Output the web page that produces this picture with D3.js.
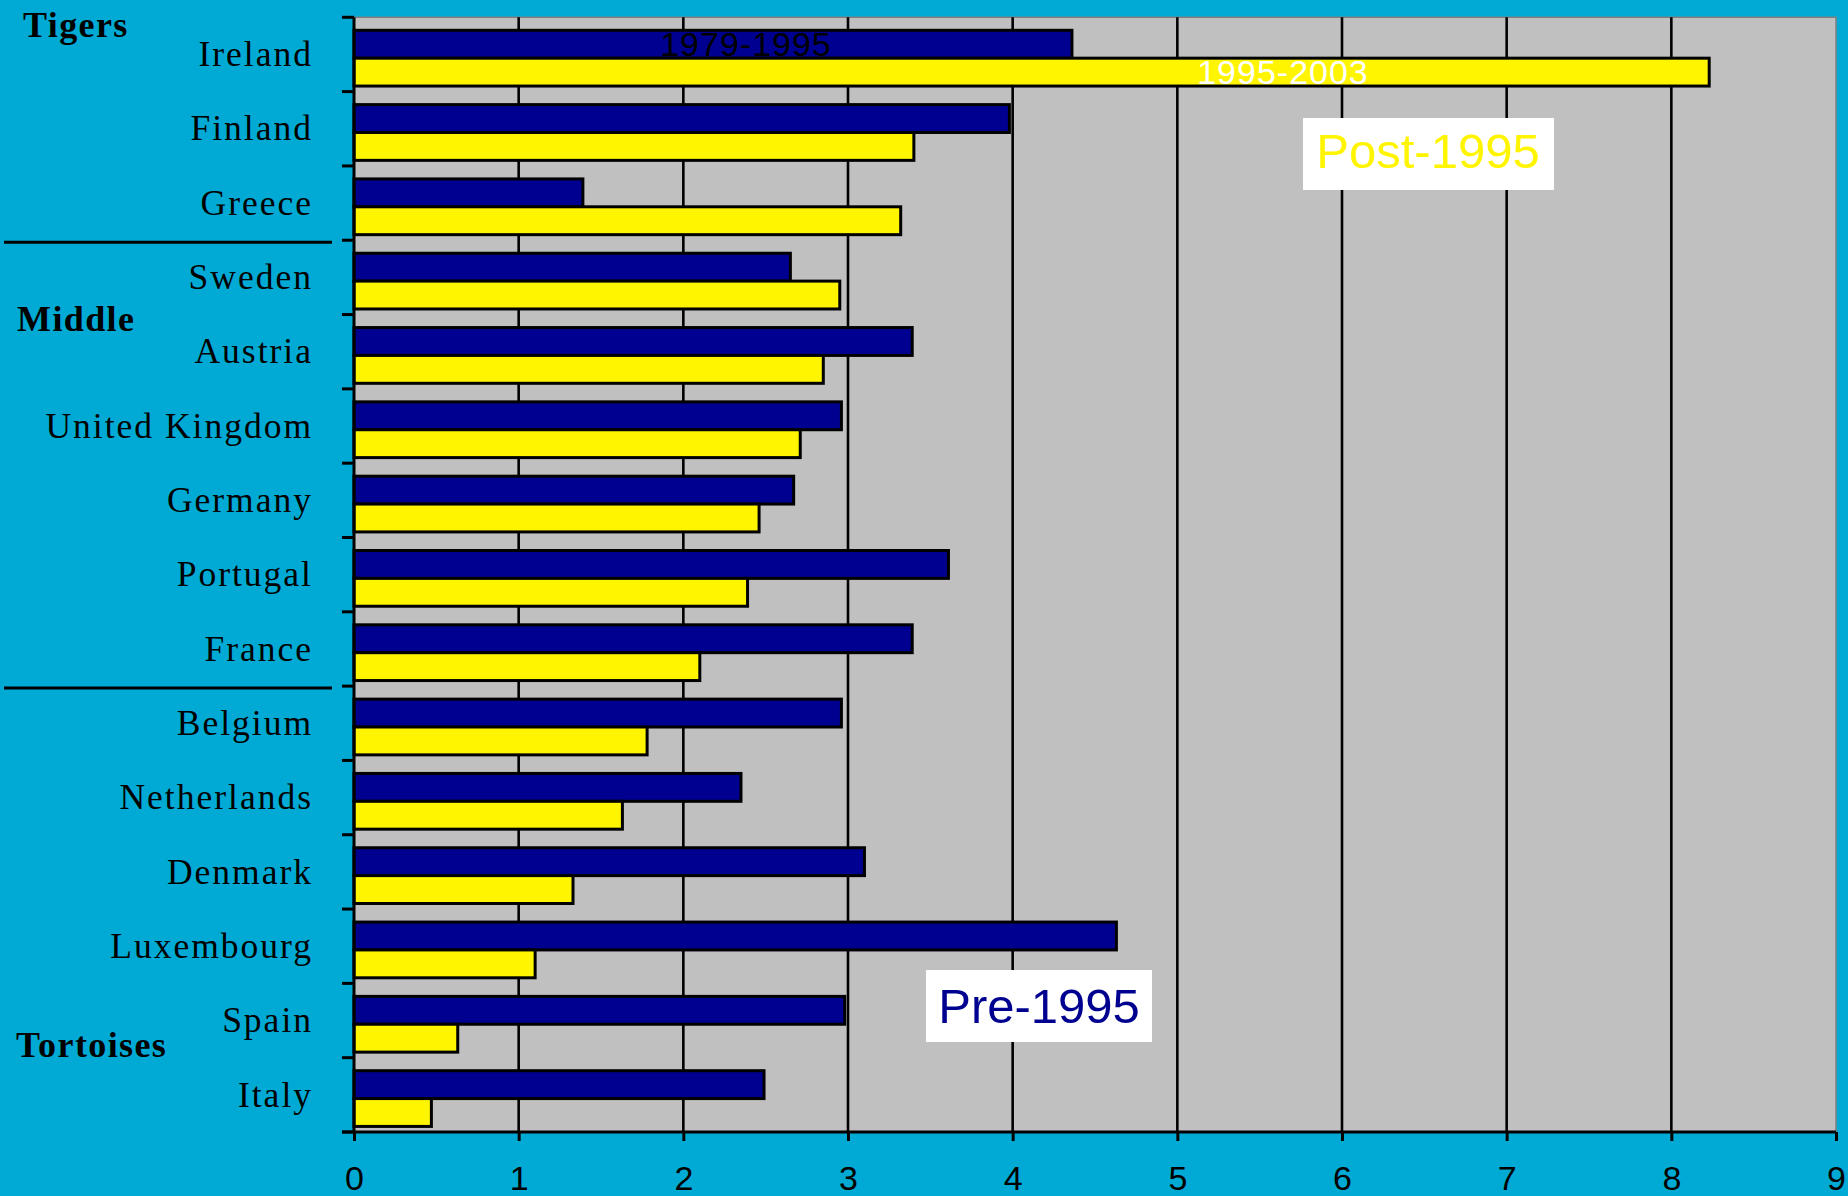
<!DOCTYPE html>
<html><head><meta charset="utf-8">
<script src="https://cdn.jsdelivr.net/npm/d3@7"></script>
<style>
html,body{margin:0;padding:0;background:#00AAD4;}
svg{display:block;}
</style></head>
<body>
<script>
const countries = ["Ireland","Finland","Greece","Sweden","Austria","United Kingdom","Germany","Portugal","France","Belgium","Netherlands","Denmark","Luxembourg","Spain","Italy"];
const pre1995  = [4.36,3.98,1.39,2.65,3.39,2.96,2.67,3.61,3.39,2.96,2.35,3.10,4.63,2.98,2.49];
const post1995 = [8.23,3.40,3.32,2.95,2.85,2.71,2.46,2.39,2.10,1.78,1.63,1.33,1.10,0.63,0.47];
const xTicks = [0,1,2,3,4,5,6,7,8,9];
const groups = ["Tigers","Middle","Tortoises"];
const separatorsAfter = ["Greece","France"];
const seriesNames = ["1979-1995","1995-2003"];
const boxLabels = ["Post-1995","Pre-1995"];

(function(){
const W = 1848, H = 1196;
const pL = 354, pR = 1836, pT = 17.3, pB = 1132;
const svg = d3.select("body").append("svg").attr("width",W).attr("height",H);
svg.append("rect").attr("width",W).attr("height",H).attr("fill","#00AAD4");

const x = d3.scaleLinear().domain([0,9]).range([pL,pR]);
const y = d3.scaleBand().domain(countries).range([pT,pB]).padding(0);
const bw = y.bandwidth();

// plot area
svg.append("rect").attr("x",pL).attr("y",pT).attr("width",pR-pL).attr("height",pB-pT)
  .attr("fill","#C0C0C0").attr("stroke","#808080").attr("stroke-width",1.5);

// gridlines
svg.append("g").selectAll("line").data(xTicks.filter(d=>d>0 && d<9)).join("line")
  .attr("x1",d=>x(d)).attr("x2",d=>x(d)).attr("y1",pT).attr("y2",pB)
  .attr("stroke","#000").attr("stroke-width",2.6);

// bars
const navyY = d => y(d) + 0.175*bw;
const barH = 0.375*bw;
svg.append("g").selectAll("rect").data(countries).join("rect")
  .attr("x",x(0)).attr("y",d=>navyY(d)).attr("height",barH)
  .attr("width",(d,i)=>x(pre1995[i])-x(0))
  .attr("fill","#000090").attr("stroke","#000").attr("stroke-width",3);
svg.append("g").selectAll("rect").data(countries).join("rect")
  .attr("x",x(0)).attr("y",d=>navyY(d)+barH).attr("height",barH)
  .attr("width",(d,i)=>x(post1995[i])-x(0))
  .attr("fill","#FFF500").attr("stroke","#000").attr("stroke-width",3);

// in-bar series labels
svg.append("text").attr("x",746).attr("y",navyY("Ireland")+barH/2).attr("dy","0.35em")
  .attr("text-anchor","middle").attr("font-family","Liberation Sans, Arial, sans-serif")
  .attr("font-size",34).attr("letter-spacing",1).attr("fill","#000").text(seriesNames[0]);
svg.append("text").attr("x",1283).attr("y",navyY("Ireland")+barH*1.5).attr("dy","0.35em")
  .attr("text-anchor","middle").attr("font-family","Liberation Sans, Arial, sans-serif")
  .attr("font-size",34).attr("letter-spacing",1).attr("fill","#fff").text(seriesNames[1]);

// axes
const xAxis = d3.axisBottom(x).tickValues(xTicks).tickSize(9).tickPadding(12).tickFormat(d3.format("d"));
const gx = svg.append("g").attr("transform",`translate(0,${pB})`).call(xAxis);
gx.select(".domain").attr("stroke","#000").attr("stroke-width",3).attr("d",`M${pL-12},0H${pR}`);
gx.selectAll(".tick line").attr("stroke","#000").attr("stroke-width",3);
gx.selectAll(".tick text").attr("font-family","Liberation Sans, Arial, sans-serif")
  .attr("font-size",34).attr("fill","#000").attr("dy","1.1em");

// left axis line and ticks at row boundaries
svg.append("line").attr("x1",pL).attr("x2",pL).attr("y1",pT).attr("y2",pB)
  .attr("stroke","#000").attr("stroke-width",3);
const bounds = countries.map(c=>y(c)).concat([pB]);
svg.append("g").selectAll("line").data(bounds).join("line")
  .attr("x1",pL-12).attr("x2",pL).attr("y1",d=>d).attr("y2",d=>d)
  .attr("stroke","#000").attr("stroke-width",3);

// country labels
svg.append("g").selectAll("text").data(countries).join("text")
  .attr("x",313).attr("y",d=>y(d)+bw/2).attr("dy","0.33em")
  .attr("text-anchor","end").attr("font-family","Liberation Serif, Times New Roman, serif")
  .attr("font-size",35.5).attr("letter-spacing",2).attr("fill","#000").text(d=>d);

// group labels
const groupY = {"Tigers":36.7,"Middle":330.7,"Tortoises":1057};
const groupX = {"Tigers":23,"Middle":17,"Tortoises":16};
svg.append("g").selectAll("text").data(groups).join("text")
  .attr("x",d=>groupX[d]).attr("y",d=>groupY[d])
  .attr("font-family","Liberation Serif, Times New Roman, serif").attr("font-weight","bold")
  .attr("font-size",36).attr("letter-spacing",1.4).attr("fill","#000").text(d=>d);

// separators
svg.append("g").selectAll("line").data(separatorsAfter).join("line")
  .attr("x1",4).attr("x2",332).attr("y1",d=>y(d)+bw+2).attr("y2",d=>y(d)+bw+2)
  .attr("stroke","#000").attr("stroke-width",3);

// boxes
svg.append("rect").attr("x",1303).attr("y",118).attr("width",251).attr("height",72).attr("fill","#fff");
svg.append("text").attr("x",1428).attr("y",168).attr("text-anchor","middle")
  .attr("font-family","Liberation Sans, Arial, sans-serif").attr("font-size",49)
  .attr("fill","#FFF500").text(boxLabels[0]);
svg.append("rect").attr("x",926).attr("y",970).attr("width",226).attr("height",72).attr("fill","#fff");
svg.append("text").attr("x",1039).attr("y",1022.5).attr("text-anchor","middle")
  .attr("font-family","Liberation Sans, Arial, sans-serif").attr("font-size",49)
  .attr("fill","#000090").text(boxLabels[1]);
})();
</script>
</body></html>
